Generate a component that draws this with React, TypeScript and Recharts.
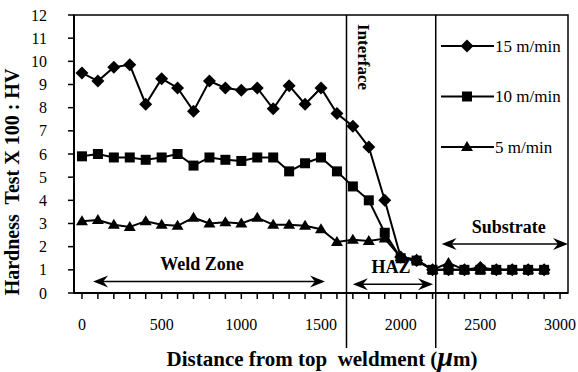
import React from 'react';
import {
  LineChart,
  Line,
  XAxis,
  YAxis,
  ReferenceLine,
  ReferenceArea,
  Customized
} from 'recharts';

// distance from top of weldment (um)
const distance = [
  0, 100, 200, 300, 400, 500, 600, 700, 800, 900,
  1000, 1100, 1200, 1300, 1400, 1500, 1600, 1700, 1800, 1900,
  2000, 2100, 2200, 2300, 2400, 2500, 2600, 2700, 2800, 2900
];

// hardness / 100 (HV)
const speed15 = [
  9.5, 9.15, 9.75, 9.85, 8.15, 9.25, 8.85, 7.85, 9.15, 8.85,
  8.75, 8.85, 7.95, 8.95, 8.15, 8.85, 7.75, 7.2, 6.3, 4.0,
  1.55, 1.4, 1.0, 1.0, 1.0, 1.1, 1.0, 1.0, 1.0, 1.0
];
const speed10 = [
  5.9, 6.0, 5.85, 5.85, 5.75, 5.85, 6.0, 5.5, 5.85, 5.75,
  5.7, 5.85, 5.85, 5.25, 5.6, 5.85, 5.25, 4.6, 4.0, 2.6,
  1.5, 1.4, 1.0, 1.0, 1.0, 1.0, 1.0, 1.0, 1.0, 1.0
];
const speed5 = [
  3.1, 3.15, 2.95, 2.85, 3.1, 2.95, 2.9, 3.25, 3.0, 3.05,
  3.0, 3.25, 2.95, 2.95, 2.9, 2.75, 2.2, 2.3, 2.25, 2.35,
  1.55, 1.45, 1.0, 1.3, 1.0, 1.0, 1.0, 1.0, 1.0, 1.0
];

const xTicks = [
  0, 100, 200, 300, 400, 500, 600, 700, 800, 900, 1000,
  1100, 1200, 1300, 1400, 1500, 1600, 1700, 1800, 1900, 2000,
  2100, 2200, 2300, 2400, 2500, 2600, 2700, 2800, 2900, 3000
];
const xLabels = [0, 500, 1000, 1500, 2000, 2500, 3000];
const yTicks = [0, 1, 2, 3, 4, 5, 6, 7, 8, 9, 10, 11, 12];

// zone boundaries and zone arrows (data units)
const interfaceX = 1660;
const substrateX = 2220;
const zones = [
  { name: 'Weld Zone', from: 70, to: 1525, y: 0.5, dx: -7 },
  { name: 'HAZ', from: 1700, to: 2203, y: 0.38, dx: -2 },
  { name: 'Substrate', from: 2257, to: 3050, y: 2.12, dx: 4 }
];

const rows = distance.map((d, i) => ({
  d,
  s15: speed15[i],
  s10: speed10[i],
  s5: speed5[i]
}));

const FONT = 'Liberation Serif';

const diamond = (cx: number, cy: number, k?: any) => (
  <polygon
    key={k}
    points={`${cx},${cy - 6.5} ${cx + 6.5},${cy} ${cx},${cy + 6.5} ${cx - 6.5},${cy}`}
    fill="#000"
  />
);
const square = (cx: number, cy: number, k?: any) => (
  <rect key={k} x={cx - 5} y={cy - 5} width={10} height={10} fill="#000" />
);
const triangle = (cx: number, cy: number, k?: any) => (
  <polygon
    key={k}
    points={`${cx},${cy - 6} ${cx + 6},${cy + 4} ${cx - 6},${cy + 4}`}
    fill="#000"
  />
);

const series = [
  { key: 's15', name: '15 m/min', marker: diamond },
  { key: 's10', name: '10 m/min', marker: square },
  { key: 's5', name: '5 m/min', marker: triangle }
];

const XTick = ({ x, y, payload }: any) => {
  if (!xLabels.includes(payload.value)) return <g />;
  return (
    <text x={x} y={y + 31} textAnchor="middle" style={{ fontFamily: FONT, fontSize: 16 }} fill="#000">
      {payload.value}
    </text>
  );
};

const YTick = ({ x, y, payload }: any) => (
  <text x={x} y={y + 5.5} textAnchor="end" style={{ fontFamily: FONT, fontSize: 16 }} fill="#000">
    {payload.value}
  </text>
);

const Arrow = (label: string, dx: number) => (props: any) => {
  const { x1, x2, y1 } = props;
  const l = Math.min(x1, x2);
  const r = Math.max(x1, x2);
  const y = y1;
  return (
    <g>
      <line x1={l + 4} y1={y} x2={r - 4} y2={y} stroke="#000" strokeWidth={1.5} />
      <polygon points={`${l},${y} ${l + 15},${y - 6} ${l + 10},${y} ${l + 15},${y + 6}`} fill="#000" />
      <polygon points={`${r},${y} ${r - 15},${y - 6} ${r - 10},${y} ${r - 15},${y + 6}`} fill="#000" />
      <text
        x={(l + r) / 2 + dx}
        y={y - 11}
        textAnchor="middle"
        style={{ fontFamily: FONT, fontSize: 18, fontWeight: 'bold' }}
        fill="#000"
      >
        {label}
      </text>
    </g>
  );
};

const TallLine = (props: any) => {
  const { x1, y1, x2, y2 } = props;
  const top = Math.min(y1, y2);
  const bottom = Math.max(y1, y2);
  return <line x1={x1} y1={top} x2={x2} y2={bottom + 55} stroke="#000" strokeWidth={1.5} />;
};

const Overlay = () => (
  <g style={{ fontFamily: FONT }} fill="#000">
    {series.map((s, i) => {
      const y = 46 + i * 50.5;
      return (
        <g key={s.key}>
          <line x1={441} y1={y} x2={494} y2={y} stroke="#000" strokeWidth={2} />
          {s.marker(467, y)}
          <text x={495} y={y + 5.5} style={{ fontFamily: FONT, fontSize: 17 }}>
            {s.name}
          </text>
        </g>
      );
    })}
    <text
      x={358}
      y={57}
      transform="rotate(90 358 57)"
      textAnchor="middle"
      style={{ fontFamily: FONT, fontSize: 17, fontWeight: 'bold' }}
    >
      Interface
    </text>
    <text
      x={19}
      y={182}
      transform="rotate(-90 19 182)"
      textAnchor="middle"
      style={{ fontFamily: FONT, fontSize: 20, fontWeight: 'bold', whiteSpace: 'pre' }}
    >
      {'Hardness  Test X 100 : HV'}
    </text>
    <text
      x={322}
      y={366}
      textAnchor="middle"
      style={{ fontFamily: FONT, fontSize: 21, fontWeight: 'bold', whiteSpace: 'pre' }}
    >
      {'Distance from top  weldment ('}
      <tspan style={{ fontSize: 28, fontStyle: 'italic' }}>μ</tspan>
      <tspan>m)</tspan>
    </text>
  </g>
);

export default function App() {
  return (
    <div style={{ width: 578, height: 372, fontFamily: FONT }}>
      <style>{'body{margin:0;background:#fff}'}</style>
      <LineChart
        width={578}
        height={372}
        data={rows}
        margin={{ top: 15, right: 10, left: 0, bottom: 0 }}
      >
        <ReferenceArea
          x1={-50}
          x2={3050}
          y1={0}
          y2={12}
          fill="none"
          stroke="#000"
          strokeWidth={1.5}
        />
        <XAxis
          dataKey="d"
          type="number"
          domain={[-50, 3050]}
          ticks={xTicks}
          interval={0}
          allowDataOverflow
          height={79}
          tickSize={6}
          tickMargin={0}
          tick={<XTick />}
          tickLine={{ stroke: '#000', strokeWidth: 1.5 }}
          axisLine={{ stroke: '#000', strokeWidth: 2 }}
        />
        <YAxis
          type="number"
          domain={[0, 12]}
          ticks={yTicks}
          interval={0}
          width={74}
          tickSize={6}
          tickMargin={21}
          tick={<YTick />}
          tickLine={{ stroke: '#000', strokeWidth: 1.5 }}
          axisLine={{ stroke: '#000', strokeWidth: 2 }}
        />
        <ReferenceLine x={interfaceX} ifOverflow="visible" shape={<TallLine />} />
        <ReferenceLine x={substrateX} ifOverflow="visible" shape={<TallLine />} />
        {zones.map((z) => (
          <ReferenceLine
            key={z.name}
            ifOverflow="visible"
            segment={[
              { x: z.from, y: z.y },
              { x: z.to, y: z.y }
            ]}
            shape={Arrow(z.name, z.dx)}
          />
        ))}
        {series.map((s) => (
          <Line
            key={s.key}
            type="linear"
            dataKey={s.key}
            name={s.name}
            stroke="#000"
            strokeWidth={2}
            isAnimationActive={false}
            dot={(p: any) => s.marker(p.cx, p.cy, `${s.key}-${p.index}`)}
            activeDot={false}
          />
        ))}
        <Customized component={Overlay} />
      </LineChart>
    </div>
  );
}
